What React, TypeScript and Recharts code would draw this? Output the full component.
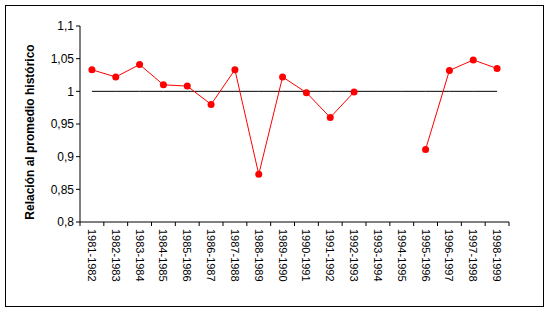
import React from 'react';
import { LineChart, Line, XAxis, YAxis } from 'recharts';

// Relación anual respecto al promedio histórico
const periods = [
  '1981-1982', '1982-1983', '1983-1984', '1984-1985', '1985-1986', '1986-1987',
  '1987-1988', '1988-1989', '1989-1990', '1990-1991', '1991-1992', '1992-1993',
  '1993-1994', '1994-1995', '1995-1996', '1996-1997', '1997-1998', '1998-1999',
];
const ratio = [
  1.033, 1.022, 1.041, 1.01, 1.008, 0.98, 1.033, 0.873, 1.022,
  0.998, 0.96, 0.999, null, null, 0.911, 1.032, 1.048, 1.035,
];
const baseline = periods.map(() => 1);
const yTicks = [0.8, 0.85, 0.9, 0.95, 1, 1.05, 1.1];

const data = periods.map((period, i) => ({ period, ratio: ratio[i], baseline: baseline[i] }));

const W = 550;
const H = 313;
const margin = { top: 26, right: 41, bottom: 0, left: 0 };
const axisW = 80;
const axisH = 91;
const band = (W - axisW - margin.right) / periods.length;
const font = '"Liberation Sans", Arial, sans-serif';

const fmt = (v: number) => String(v).replace('.', ',');

const PeriodTick = (props: any) => {
  const { x, y, payload, index } = props;
  const axisY = y - 6;
  return (
    <g>
      <line x1={x - band / 2} x2={x - band / 2} y1={axisY} y2={axisY + 4} stroke="#000" />
      {index === periods.length - 1 && (
        <line x1={x + band / 2} x2={x + band / 2} y1={axisY} y2={axisY + 4} stroke="#000" />
      )}
      <text
        transform={`translate(${x},${y + 1}) rotate(90)`}
        textAnchor="start"
        dominantBaseline="central"
        fontSize={11}
        fontFamily={font}
        fill="#000"
      >
        {payload.value}
      </text>
    </g>
  );
};

const App = () => {
  return (
    <div style={{ position: 'fixed', left: 0, top: 0, width: W, height: H, background: '#fff' }}>
      <div
        style={{
          position: 'absolute', left: 5, top: 5, width: 539, height: 302,
          border: '1px solid #000', boxSizing: 'border-box',
        }}
      />
      <div style={{ position: 'absolute', left: 0, top: 0 }}>
        <LineChart width={W} height={H} data={data} margin={margin}>
          <XAxis
            dataKey="period"
            scale="band"
            interval={0}
            tickLine={false}
            tickSize={4}
            tickMargin={2}
            height={axisH}
            axisLine={{ stroke: '#000' }}
            tick={<PeriodTick />}
          />
          <XAxis
            xAxisId="top"
            orientation="top"
            dataKey="period"
            scale="band"
            height={0}
            tick={false}
            tickLine={false}
            axisLine={{ stroke: '#808080' }}
          />
          <YAxis
            domain={[0.8, 1.1]}
            ticks={yTicks}
            interval={0}
            width={axisW}
            tickSize={4}
            tickMargin={2}
            tickFormatter={fmt}
            axisLine={{ stroke: '#000' }}
            tickLine={{ stroke: '#000' }}
            tick={{ fill: '#000', fontSize: 12, fontFamily: font }}
            label={{
              content: () => (
                <text
                  x={30}
                  y={132}
                  transform="rotate(-90 30 132)"
                  textAnchor="middle"
                  dominantBaseline="central"
                  fontSize={12}
                  fontWeight="bold"
                  fontFamily={font}
                  fill="#000"
                >
                  Relación al promedio histórico
                </text>
              ),
            }}
          />
          <YAxis
            yAxisId="right"
            orientation="right"
            domain={[0.8, 1.1]}
            width={0}
            tick={false}
            tickLine={false}
            axisLine={{ stroke: '#808080' }}
          />
          <Line
            dataKey="baseline"
            stroke="#000"
            strokeWidth={1}
            dot={false}
            isAnimationActive={false}
          />
          <Line
            dataKey="ratio"
            stroke="#ff0000"
            strokeWidth={1}
            connectNulls={false}
            dot={{ r: 3.5, fill: '#ff0000', stroke: '#ff0000', strokeWidth: 0 }}
            isAnimationActive={false}
          />
        </LineChart>
      </div>
    </div>
  );
};

export default App;
